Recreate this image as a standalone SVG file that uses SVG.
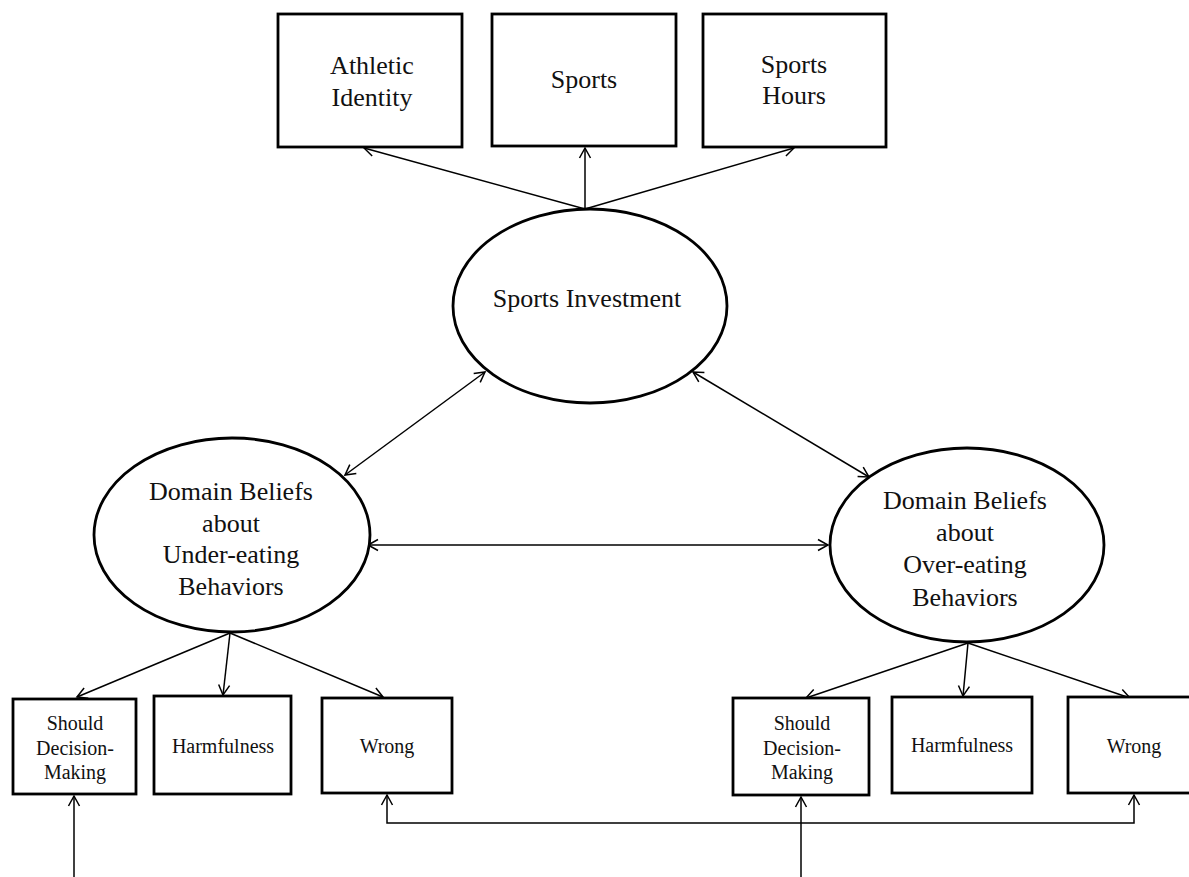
<svg xmlns="http://www.w3.org/2000/svg" width="1189" height="877" viewBox="0 0 1189 877">
<style>
.box{fill:#fff;stroke:#000;stroke-width:2.8}
.ell{fill:#fff;stroke:#000;stroke-width:2.8}
.t{font-family:"Liberation Serif","Times New Roman",serif;fill:#111;text-anchor:middle}
.big{font-size:26px}
.small{font-size:20px}
.c{fill:none;stroke:#000;stroke-width:1.5}
</style>
<defs>
<marker id="ah" markerUnits="userSpaceOnUse" markerWidth="14" markerHeight="14" viewBox="0 0 14 14" refX="12" refY="7" orient="auto-start-reverse">
<path d="M2,1.5 L12,7 L2,12.5" fill="none" stroke="#000" stroke-width="1.5"/>
</marker>
</defs>
<rect width="1189" height="877" fill="#fff"/>
<g id="connectors">
<line class="c" x1="585" y1="209" x2="364" y2="148" marker-end="url(#ah)"/>
<line class="c" x1="585" y1="209" x2="585" y2="148" marker-end="url(#ah)"/>
<line class="c" x1="585" y1="209" x2="794" y2="148" marker-end="url(#ah)"/>
<line class="c" x1="485" y1="372" x2="345" y2="475" marker-start="url(#ah)" marker-end="url(#ah)"/>
<line class="c" x1="693" y1="372" x2="869" y2="477" marker-start="url(#ah)" marker-end="url(#ah)"/>
<line class="c" x1="368" y1="545" x2="828" y2="545" marker-start="url(#ah)" marker-end="url(#ah)"/>
<line class="c" x1="230" y1="633" x2="77" y2="697" marker-end="url(#ah)"/>
<line class="c" x1="230" y1="633" x2="223" y2="695" marker-end="url(#ah)"/>
<line class="c" x1="230" y1="633" x2="383" y2="697" marker-end="url(#ah)"/>
<line class="c" x1="968" y1="643" x2="806" y2="698" marker-end="url(#ah)"/>
<line class="c" x1="968" y1="643" x2="963" y2="696" marker-end="url(#ah)"/>
<line class="c" x1="968" y1="643" x2="1130" y2="698" marker-end="url(#ah)"/>
<line class="c" x1="74" y1="877" x2="74" y2="796" marker-end="url(#ah)"/>
<line class="c" x1="801" y1="877" x2="801" y2="797" marker-end="url(#ah)"/>
<path class="c" d="M387,795 L387,823 L1134,823 L1134,795" marker-start="url(#ah)" marker-end="url(#ah)"/>
</g>
<g id="athletic-identity">
<rect class="box" x="278" y="14" width="184" height="133"/>
<text class="t big" x="372" y="74">Athletic</text>
<text class="t big" x="372" y="106">Identity</text>
</g>
<g id="sports">
<rect class="box" x="492" y="14" width="184" height="132"/>
<text class="t big" x="584" y="88">Sports</text>
</g>
<g id="sports-hours">
<rect class="box" x="703" y="14" width="183" height="133"/>
<text class="t big" x="794" y="73">Sports</text>
<text class="t big" x="794" y="104">Hours</text>
</g>
<g id="sports-investment">
<ellipse class="ell" cx="590" cy="306" rx="137" ry="97"/>
<text class="t big" x="587" y="307">Sports Investment</text>
</g>
<g id="under-eating">
<ellipse class="ell" cx="232" cy="535" rx="138" ry="97"/>
<text class="t big" x="231" y="500">Domain Beliefs</text>
<text class="t big" x="231" y="532">about</text>
<text class="t big" x="231" y="563">Under-eating</text>
<text class="t big" x="231" y="595">Behaviors</text>
</g>
<g id="over-eating">
<ellipse class="ell" cx="967" cy="545" rx="137" ry="97"/>
<text class="t big" x="965" y="509">Domain Beliefs</text>
<text class="t big" x="965" y="541">about</text>
<text class="t big" x="965" y="573">Over-eating</text>
<text class="t big" x="965" y="606">Behaviors</text>
</g>
<g id="under-should">
<rect class="box" x="13" y="699" width="123" height="95"/>
<text class="t small" x="75" y="730">Should</text>
<text class="t small" x="75" y="755">Decision-</text>
<text class="t small" x="75" y="779">Making</text>
</g>
<g id="under-harmfulness">
<rect class="box" x="154" y="696" width="137" height="98"/>
<text class="t small" x="223" y="753">Harmfulness</text>
</g>
<g id="under-wrong">
<rect class="box" x="322" y="698" width="130" height="95"/>
<text class="t small" x="387" y="753">Wrong</text>
</g>
<g id="over-should">
<rect class="box" x="733" y="698" width="136" height="97"/>
<text class="t small" x="802" y="730">Should</text>
<text class="t small" x="802" y="755">Decision-</text>
<text class="t small" x="802" y="779">Making</text>
</g>
<g id="over-harmfulness">
<rect class="box" x="892" y="697" width="140" height="96"/>
<text class="t small" x="962" y="752">Harmfulness</text>
</g>
<g id="over-wrong">
<rect class="box" x="1068" y="697" width="130" height="96"/>
<text class="t small" x="1134" y="753">Wrong</text>
</g>
</svg>
